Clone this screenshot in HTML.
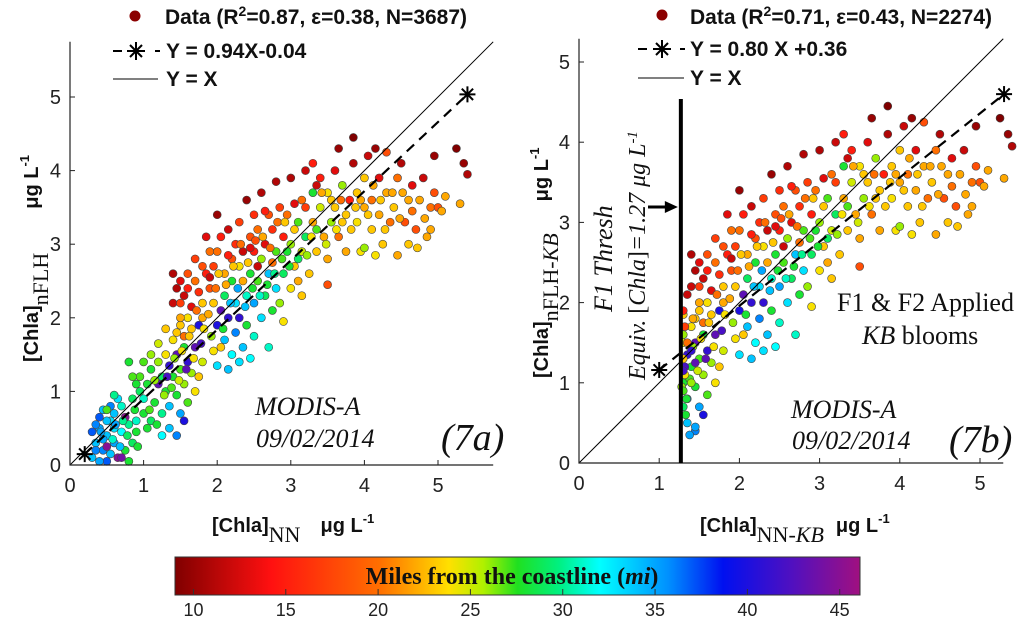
<!DOCTYPE html>
<html><head><meta charset="utf-8"><style>
body{margin:0;background:#fff;width:1024px;height:620px;overflow:hidden;position:relative}
svg{display:block}
.t{font-family:"Liberation Sans",sans-serif;font-size:20px;fill:#222}
.lg{font-family:"Liberation Sans",sans-serif;font-size:21px;font-weight:bold;fill:#111}
.sr{font-family:"Liberation Serif",serif;fill:#111}
</style></head><body>
<svg id="chart" width="1024" height="620">
<defs>
<linearGradient id="cmap" x1="0" x2="1" y1="0" y2="0">
<stop offset="0" stop-color="#800000"/><stop offset="0.14" stop-color="#ff1010"/><stop offset="0.3" stop-color="#ff7000"/>
<stop offset="0.4" stop-color="#ffe000"/><stop offset="0.45" stop-color="#b0f000"/><stop offset="0.5" stop-color="#20e020"/>
<stop offset="0.56" stop-color="#00f080"/><stop offset="0.62" stop-color="#00ffff"/><stop offset="0.72" stop-color="#0090ff"/>
<stop offset="0.8" stop-color="#0010f0"/><stop offset="0.9" stop-color="#5010c0"/><stop offset="1" stop-color="#a01080"/>
</linearGradient>
</defs>
<g id="pa"></g>
<g id="pb"></g>
<g id="cb"></g>
</svg>
<script>
// Panel 7a data: x, y, miles
const axMain=[0.3,0.35,0.4,0.45,0.5,0.5,0.55,0.6,0.6,0.65,0.4,0.35,0.45,0.55,0.7,0.7,0.75,0.8,0.8,0.85,0.5,0.6,0.45,0.65,0.75,0.3,0.55,0.4,0.7,0.85,0.9,0.95,0.9,1.0,0.95,0.6,0.5,
1.0,1.05,1.1,1.1,1.15,1.2,1.2,1.25,1.25,1.3,1.3,1.35,1.35,1.4,1.4,1.45,1.45,1.5,1.5,1.55,1.55,1.6,1.6,0.8,0.85,0.9,1.0,1.1,1.2,1.3,1.25,1.35,1.5,1.55,1.45,1.6,1.7,1.65,1.75,1.7,1.75,1.8,1.8,
1.4,1.45,1.5,1.5,1.55,1.6,1.6,1.65,1.7,1.7,1.75,1.8,1.8,1.85,1.85,1.9,1.9,1.95,1.95,2.0,1.4,1.5,1.65,1.55,1.45,
2.0,2.05,2.1,2.1,2.15,2.2,2.2,2.25,2.25,2.3,2.3,2.35,2.4,2.4,2.45,2.5,2.5,2.55,2.6,2.6,2.65,2.7,2.7,2.75,2.8,2.8,2.85,2.9,2.9,2.95,3.0,2.15,2.3,2.45,2.0,1.95,2.05,
2.0,2.05,2.1,2.15,2.2,2.25,2.3,2.35,2.4,2.45,2.5,2.5,2.55,2.6,2.65,2.7,2.75,2.8,2.85,2.9,2.95,3.0,2.35,2.55,2.75,
3.0,3.05,3.1,3.1,3.15,3.2,3.2,3.25,3.3,3.3,3.35,3.4,3.4,3.45,3.5,3.5,3.55,3.6,3.6,3.65,3.7,3.7,3.75,3.8,3.85,3.9,3.9,3.95,4.0,3.5,3.2,3.65,3.85,3.15,3.3,
4.0,4.05,4.1,4.1,4.15,4.2,4.2,4.25,4.3,4.3,4.35,4.4,4.45,4.45,4.5,4.55,4.6,4.6,4.65,4.7,4.75,4.8,4.85,4.9,4.95,5.0,5.1,5.25,5.35,5.4,5.3,4.95,4.0,4.15];
const ayMain=[0.1,0.3,0.5,0.2,0.05,0.4,0.6,0.3,0.7,0.1,0.65,0.55,0.75,0.15,0.45,0.8,0.2,0.05,0.55,0.9,0.25,0.5,0.35,0.9,0.65,0.45,0.8,0.05,0.1,0.3,0.6,1.0,0.45,0.7,1.2,0.95,0.75,
0.9,1.1,0.6,1.3,0.85,1.1,1.4,0.7,1.2,1.0,1.5,0.8,1.35,1.2,1.7,0.95,1.5,1.3,1.9,1.1,1.6,1.4,2.0,1.4,1.2,1.1,1.4,1.5,1.65,1.85,0.4,0.5,0.7,0.6,0.4,0.85,1.0,1.25,1.2,1.6,1.9,1.4,2.2,
2.2,2.4,2.5,2.2,2.3,2.6,2.4,2.15,2.8,2.5,2.35,2.7,2.0,2.6,3.1,2.4,2.9,2.2,2.7,3.4,2.6,2.0,1.85,1.75,1.8,
1.9,2.1,1.7,2.3,2.0,1.5,2.5,1.8,2.2,2.0,2.7,1.6,2.3,1.9,2.6,1.75,2.2,2.5,2.0,2.8,2.3,1.6,2.6,2.1,2.4,2.9,2.2,2.6,1.95,2.9,2.4,1.3,1.4,1.45,1.35,1.55,1.6,
2.9,3.1,2.6,3.2,2.8,3.0,3.3,2.9,3.6,3.1,2.9,3.4,3.2,3.7,3.0,3.4,3.2,3.85,3.5,3.1,3.4,3.9,2.5,2.7,2.75,
3.0,2.7,3.3,2.5,2.9,3.5,3.1,2.6,3.3,3.7,2.9,3.5,3.9,3.1,3.7,2.8,3.3,4.0,3.5,3.1,3.8,3.3,2.9,3.6,4.1,3.3,3.7,2.9,3.5,2.45,4.0,4.3,4.45,2.3,4.1,
3.9,4.2,3.2,3.6,4.3,3.4,3.9,3.0,3.7,4.25,3.3,3.5,2.85,3.9,4.1,3.3,3.6,3.0,3.8,3.2,3.6,3.9,3.1,3.5,4.2,3.5,3.65,4.3,4.1,3.95,3.55,3.7,2.95,2.85];
const amMain=[34,34,35,36,37,34,33,35,34,45,37,36,34,34,32,31,28,28,30,29,45,33,35,33,45,37,36,35,44,29,31,29,28,28,27,30,27,
31,28,29,28,28,43,26,30,29,28,24,34,41,28,24,28,43,27,23,26,28,41,24,28,27,28,27,26,25,23,32,34,35,40,36,27,24,26,23,43,40,25,23,
12,11,13,17,12,18,15,13,17,20,16,18,22,15,13,18,20,23,17,10,11,22,23,20,23,
40,43,34,29,41,32,28,36,33,41,24,34,31,28,28,31,35,27,33,26,29,31,34,28,33,27,26,29,24,28,24,34,33,32,33,24,23,
20,15,22,12,18,16,17,12,10,18,15,16,20,11,13,18,16,11,17,15,20,11,22,12,20,
26,23,27,22,25,17,29,23,22,28,23,25,15,22,24,22,26,13,23,20,26,23,22,15,11,24,23,24,22,18,12,10,9,23,15,
23,12,23,20,10,22,13,23,22,18,20,23,22,20,11,18,22,23,13,18,22,12,22,20,10,18,22,9,10,11,22,18,26,24];
const axMore=[0.35,0.42,0.5,0.58,0.62,0.68,0.72,0.78,0.88,0.92,1.05,1.08,1.15,1.18,1.28,1.32,1.38,1.42,1.48,1.52,1.58,1.62,1.68,1.72,1.78,1.82,1.88,1.92,1.98,2.02,2.08,2.12,2.18,2.22,2.28,2.32,2.38,2.42,2.48,2.52,2.58,2.62,2.68,2.72,2.78,2.82,2.88,2.92,2.98,3.05,3.1,3.15,3.22,3.28,3.35,3.42,3.48,3.55,3.62,3.68,3.75,3.82,3.88,3.95,4.05,4.12,4.22,4.28,4.38,4.48,4.52,4.65,4.72,4.82,4.9,5.05,1.9,2.15,2.45,2.65,3.05,3.35];
const ayMore=[0.2,0.45,0.6,0.35,0.55,0.25,0.6,0.4,0.75,0.25,0.5,0.75,1.15,0.55,0.95,1.2,1.05,1.45,1.15,1.55,1.3,1.75,1.45,2.1,1.65,1.85,2.05,1.75,2.4,2.6,1.85,2.45,2.2,2.7,2.4,3.0,2.15,2.75,2.4,3.05,2.3,3.1,2.45,2.95,2.6,3.3,2.8,3.3,2.7,3.2,2.8,3.6,2.85,3.1,3.2,3.7,3.0,3.6,3.2,3.6,3.4,3.2,3.5,3.6,3.4,3.8,3.6,3.2,3.7,3.35,3.7,3.45,2.95,3.35,3.2,3.45,2.55,2.85,2.95,3.45,3.55,3.8];
const amMore=[36,35,34,31,35,34,30,29,28,28,28,27,26,28,26,42,27,26,25,24,43,23,24,20,42,24,22,26,20,23,28,22,34,23,35,20,34,23,28,18,31,22,28,20,30,20,27,23,28,23,29,20,26,24,27,22,25,23,24,20,23,23,23,22,23,22,23,23,22,22,22,20,23,22,22,22,12,15,13,15,13,12];
const ax=axMain.concat(axMore), ay=ayMain.concat(ayMore), am=amMain.concat(amMore);
// Panel 7b: points from 7a above the F1 threshold plus extra threshold-edge points
const bxExtra=[1.3,1.3,1.32,1.3,1.35,1.32,1.3,1.4,1.4,1.45,1.35,1.33,1.38,1.45,1.3,1.34,1.42,1.3];
const byExtra=[0.7,0.9,1.1,1.3,1.5,1.7,1.9,1.0,1.4,1.25,2.1,0.6,0.35,0.45,1.6,0.8,1.8,1.15];
const bmExtra=[29,27,24,23,20,17,15,26,41,43,12,28,35,35,26,28,22,42];
const threshold=1.27;
const fitA=[0.94,-0.04], fitB=[0.80,0.36];
const cbTicks=[10,15,20,25,30,35,40,45];
const cbMin=9.0, cbMax=46.1;

const NS="http://www.w3.org/2000/svg";
function mk(tag,attrs,parent,text){const e=document.createElementNS(NS,tag);for(const k in attrs)e.setAttribute(k,attrs[k]);if(text!==undefined)e.textContent=text;parent.appendChild(e);return e;}
const stops=[[0,[128,0,0]],[0.14,[255,16,16]],[0.3,[255,112,0]],[0.4,[255,224,0]],[0.45,[176,240,0]],[0.5,[32,224,32]],[0.56,[0,240,128]],[0.62,[0,255,255]],[0.72,[0,144,255]],[0.8,[0,16,240]],[0.9,[80,16,192]],[1,[160,16,128]]];
function col(m){let t=(m-cbMin)/(cbMax-cbMin);t=Math.max(0,Math.min(1,t));for(let i=1;i<stops.length;i++){if(t<=stops[i][0]){const a=stops[i-1],b=stops[i];const f=(t-a[0])/(b[0]-a[0]);const c=a[1].map((v,j)=>Math.round(v+(b[1][j]-v)*f));return `rgb(${c})`;}}return 'rgb(160,16,128)';}
function star(g,x,y,name){const s=mk('g',{},g);for(let a=0;a<4;a++){const an=a*Math.PI/4;mk('line',{x1:x-8*Math.cos(an),y1:y-8*Math.sin(an),x2:x+8*Math.cos(an),y2:y+8*Math.sin(an),stroke:'#000','stroke-width':2},s);}}

function panel(g,o){
  const sx=v=>o.x0+v*o.k, sy=v=>o.y0-v*o.k;
  const L=sx(0),R=sx(o.max),T=sy(o.max),B=sy(0);
  const pts=mk('g',{},g);
  for(let i=0;i<o.xs.length;i++){const c=mk('circle',{cx:sx(o.xs[i]),cy:sy(o.ys[i]),r:4,fill:col(o.ms[i]),stroke:'#444','stroke-width':0.6},pts);}
  const l1=mk('line',{x1:L,y1:B,x2:R,y2:T,stroke:'#000','stroke-width':1},g);
  const f=o.fit;const fl=mk('line',{x1:sx(o.f0),y1:sy(f[0]*o.f0+f[1]),x2:sx(o.f1),y2:sy(f[0]*o.f1+f[1]),stroke:'#000','stroke-width':2.2,'stroke-dasharray':'10,7'},g);
  star(g,sx(o.f0),sy(f[0]*o.f0+f[1]),'fit-start-marker');star(g,sx(o.f1),sy(f[0]*o.f1+f[1]),'fit-end-marker');
  const ax_=mk('path',{d:`M${L},${T}V${B}H${R}`,fill:'none',stroke:'#222','stroke-width':1.2},g);
  for(let v=0;v<=5;v++){
    mk('line',{x1:sx(v),y1:B,x2:sx(v),y2:B-5,stroke:'#222'},g);mk('line',{x1:L,y1:sy(v),x2:L+5,y2:sy(v),stroke:'#222'},g);
    const tx=mk('text',{x:sx(v),y:B+27,'text-anchor':'middle',class:'t'},g,String(v));
    const ty=mk('text',{x:L-9,y:sy(v)+7,'text-anchor':'end',class:'t'},g,String(v));
  }
}
const pa=document.getElementById('pa'),pb=document.getElementById('pb');
panel(pa,{x0:70,y0:465,k:73.6,max:5.75,xs:ax,ys:ay,ms:am,fit:fitA,f0:0.2,f1:5.4});
const bx=[],by=[],bm=[];
for(let i=0;i<ax.length;i++){if(ax[i]>threshold){bx.push(ax[i]);by.push(ay[i]);bm.push(am[i]);}}
bx.push(...bxExtra);by.push(...byExtra);bm.push(...bmExtra);
panel(pb,{x0:579,y0:463,k:80.2,max:5.29,xs:bx,ys:by,ms:bm,fit:fitB,f0:1.0,f1:5.3});
const thx=579+threshold*80.2;
const th=mk('line',{x1:thx,y1:463,x2:thx,y2:99,stroke:'#000','stroke-width':4},pb);
const ar=mk('g',{},pb);
mk('line',{x1:648,y1:207,x2:thx-8,y2:207,stroke:'#000','stroke-width':3},ar);
mk('path',{d:`M${thx-3},207 l-13,-6 v12z`,fill:'#000'},ar);

const cb=document.getElementById('cb');
const cbr=mk('rect',{x:175,y:557,width:685,height:38,fill:'url(#cmap)',stroke:'#333','stroke-width':1},cb);
cbTicks.forEach(v=>{const x=175+(v-cbMin)/(cbMax-cbMin)*685;mk('line',{x1:x,y1:589,x2:x,y2:595,stroke:'#333'},cb);const t=mk('text',{x:x,y:616,'text-anchor':'middle',class:'t',style:'font-size:18px'},cb,String(v));});
</script>
<svg width="1024" height="620" style="position:absolute;left:0;top:0">
<g>
<circle cx="135" cy="16" r="5.5" fill="#8b0000"/>
<text x="165" y="24" class="lg">Data (R<tspan dy="-8" font-size="14">2</tspan><tspan dy="8">=0.87, ε=0.38,  N=3687)</tspan></text>
<line x1="113" y1="51" x2="160" y2="51" stroke="#000" stroke-width="2" stroke-dasharray="9,12"/>
<g stroke="#000" stroke-width="2"><line x1="127" y1="51" x2="145" y2="51"/><line x1="136" y1="42" x2="136" y2="60"/><line x1="130" y1="45" x2="142" y2="57"/><line x1="142" y1="45" x2="130" y2="57"/></g>
<text x="166" y="58" class="lg">Y = 0.94X-0.04</text>
<line x1="113" y1="79" x2="158" y2="79" stroke="#000" stroke-width="1"/>
<text x="166" y="86" class="lg">Y = X</text>
</g>
<g>
<circle cx="662" cy="15" r="5.5" fill="#8b0000"/>
<text x="690" y="24" class="lg">Data (R<tspan dy="-8" font-size="14">2</tspan><tspan dy="8">=0.71, ε=0.43,  N=2274)</tspan></text>
<line x1="638" y1="49" x2="685" y2="49" stroke="#000" stroke-width="2" stroke-dasharray="9,12"/>
<g stroke="#000" stroke-width="2"><line x1="653" y1="49" x2="671" y2="49"/><line x1="662" y1="40" x2="662" y2="58"/><line x1="656" y1="43" x2="668" y2="55"/><line x1="668" y1="43" x2="656" y2="55"/></g>
<text x="690" y="56" class="lg">Y = 0.80 X +0.36</text>
<line x1="638" y1="78" x2="684" y2="78" stroke="#000" stroke-width="1"/>
<text x="690" y="85" class="lg">Y = X</text>
</g>
<text x="212" y="532" class="lg" style="font-size:20px">[Chla]<tspan dy="10" class="sr" style="font-size:22px;font-weight:normal">NN</tspan><tspan dx="20" dy="-10">μg L</tspan><tspan dy="-9" font-size="13">-1</tspan></text>
<text transform="translate(38,362) rotate(-90)" class="lg" style="font-size:20px">[Chla]<tspan dy="10" class="sr" style="font-size:22px;font-weight:normal">nFLH</tspan><tspan dx="44" dy="-10">μg L</tspan><tspan dy="-9" font-size="13">-1</tspan></text>
<text x="700" y="532" class="lg" style="font-size:20px">[Chla]<tspan dy="10" class="sr" style="font-size:22px;font-weight:normal">NN-<tspan font-style="italic">KB</tspan></tspan><tspan dx="12" dy="-10">μg L</tspan><tspan dy="-9" font-size="13">-1</tspan></text>
<text transform="translate(548,378) rotate(-90)" class="lg" style="font-size:20px">[Chla]<tspan dy="10" class="sr" style="font-size:22px;font-weight:normal">nFLH-<tspan font-style="italic">KB</tspan></tspan><tspan dx="32" dy="-10">μg L</tspan><tspan dy="-9" font-size="13">-1</tspan></text>
<g class="sr" font-style="italic" font-size="26">
<text x="255" y="415">MODIS-A</text>
<text x="256" y="447">09/02/2014</text>
<text x="791" y="418">MODIS-A</text>
<text x="792" y="449">09/02/2014</text>
<text x="441" y="450" font-size="38">(7a)</text>
<text x="949" y="452" font-size="38">(7b)</text>
<text transform="translate(612,312) rotate(-90)">F1 Thresh</text>
<text transform="translate(645,380) rotate(-90)" font-size="24">Equiv. <tspan font-style="normal">[</tspan>Chla<tspan font-style="normal">]</tspan>=1.27 μg L<tspan dy="-8" font-size="15">-1</tspan></text>
</g>
<text x="837" y="311" class="sr" font-size="26">F1 &amp; F2 Applied</text>
<text x="862" y="344" class="sr" font-size="26"><tspan font-style="italic">KB</tspan> blooms</text>
<text x="512" y="584" text-anchor="middle" class="sr" font-size="24" font-weight="bold">Miles from the coastline (<tspan font-style="italic">mi</tspan>)</text>
</svg>
</body></html>
